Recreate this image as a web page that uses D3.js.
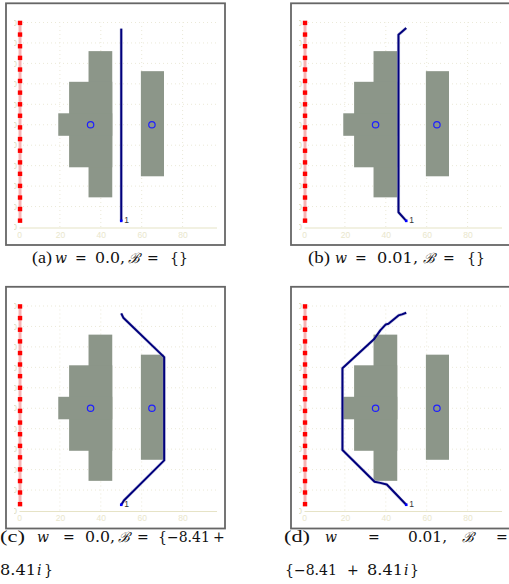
<!DOCTYPE html>
<html>
<head>
<meta charset="utf-8">
<script src="https://cdn.jsdelivr.net/npm/d3@7"></script>
<style>
  body { margin: 0; background: #fff; }
  svg { display: block; }
</style>
</head>
<body>
<div id="chart"></div>
<script>
const width = 509, height = 584;

// axis ticks
const xTicks = [0, 20, 40, 60, 80];
const yTicks = [0, 10, 20, 30, 40, 50, 60, 70, 80, 90, 100];

// red boundary markers (x = 0.5)
const redX = 0.5;
const redY = [3.1, 8.8, 14.4, 20.1, 26.0, 31.6, 37.3, 43.0, 48.7, 54.4, 60.0, 65.7, 71.4, 77.0, 82.7, 88.4, 94.1, 99.8];

// gray obstacles [x0, x1, y0, y1]
const leftBlocks = [[34, 45.6, 14.5, 86], [24.5, 45.6, 29.2, 71], [19.2, 45.6, 44.6, 55.6]];
const rightBlocks = [[59.6, 70.9, 24.8, 76.2]];
const centers = [[35, 50], [65, 50]];

// blue trajectories for each panel
const pathA = [[50, 3], [50, 97]];
const pathB = [[50, 3], [46.2, 7.2], [46.2, 94], [50, 97.3]];
const pathC = [[50, 2.8], [51.3, 4.9], [71, 24.5], [71, 75], [51, 94.3], [50, 96.4]];
const pathD = [[50, 2.8], [40.5, 12.7], [37.3, 13.5], [34.5, 14.1], [18.8, 29.6], [18.8, 69.6],
               [34.2, 83.7], [37.3, 88.1], [40, 91], [41.3, 91.3], [46.2, 95.4], [47.9, 95.9], [50, 96.7]];

// caption tokens: [text, x, width or 0, kind]  kind: "lab" | "m" (math upright) | "mi" (math italic)
const capA = [["(a)", 32, 20, "lab"], ["w", 55, 0, "mi"], ["=", 75, 0, "m"], ["0.0,", 95, 30, "m"],
              ["ℬ", 128, 0, "mi"], ["=", 147, 0, "m"], ["{}", 170, 0, "m"]];
const capB = [["(b)", 308, 22, "lab"], ["w", 335, 0, "mi"], ["=", 355, 0, "m"], ["0.01,", 377, 41, "m"],
              ["ℬ", 423, 0, "mi"], ["=", 443, 0, "m"], ["{}", 467, 0, "m"]];
const capC1 = [["(c)", 0, 25, "lab"], ["w", 37, 0, "mi"], ["=", 63, 0, "m"], ["0.0,", 85, 30, "m"],
               ["ℬ", 118, 0, "mi"], ["=", 137, 0, "m"], ["{−8.41", 158, 0, "m"], ["+", 213, 0, "m"]];
const capC2 = [["8.41", 0, 36, "m"], ["i", 37, 0, "mi"], ["}", 44, 0, "m"]];
const capD1 = [["(d)", 284, 26, "lab"], ["w", 325, 0, "mi"], ["=", 368, 0, "m"], ["0.01,", 408, 39, "m"],
               ["ℬ", 462, 0, "mi"], ["=", 496, 0, "m"]];
const capD2 = [["{−8.41", 285, 0, "m"], ["+", 347, 0, "m"], ["8.41", 367, 36, "m"], ["i", 404, 0, "mi"],
               ["}", 410, 0, "m"]];

const panels = [
  { path: pathA, dx: 0, dy: 0 },
  { path: pathB, dx: 285, dy: 0 },
  { path: pathC, dx: 0, dy: 283.5 },
  { path: pathD, dx: 285, dy: 283.5 }
];

const svg = d3.select("#chart").append("svg")
  .attr("width", width).attr("height", height);

const x = d3.scaleLinear().domain([0, 96.6]).range([19, 19 + 96.6 * 2.045]);
const y = d3.scaleLinear().domain([0, 100]).range([227, 227 - 204.5]);

svg.append("defs").append("clipPath").attr("id", "lclip")
  .append("rect").attr("x", 14).attr("y", 0).attr("width", 220).attr("height", 250);

panels.forEach(p => {
  const g = svg.append("g").attr("transform", `translate(${p.dx},${p.dy})`);
  const plot = g.append("g").attr("clip-path", "url(#lclip)");

  // dotted grid
  plot.selectAll(".vgrid").data(xTicks.slice(1)).enter().append("line")
    .attr("x1", d => x(d)).attr("x2", d => x(d))
    .attr("y1", y(0)).attr("y2", y(100))
    .attr("stroke", "#ebe9d8").attr("stroke-width", 1).attr("stroke-dasharray", "1,3");
  plot.selectAll(".hgrid").data(yTicks.slice(1)).enter().append("line")
    .attr("x1", x(0)).attr("x2", x(96.6))
    .attr("y1", d => y(d)).attr("y2", d => y(d))
    .attr("stroke", "#ebe9d8").attr("stroke-width", 1).attr("stroke-dasharray", "1,3");

  // x axis
  const xAxis = plot.append("g").attr("transform", `translate(0,${y(0) + 0.5})`)
    .call(d3.axisBottom(x).tickValues(xTicks).tickSize(0).tickPadding(4));
  xAxis.select(".domain").attr("stroke", "#e6e3c6").attr("stroke-width", 1.2);
  xAxis.selectAll("text").attr("fill", "#e9e6cc").attr("font-size", 8.5)
    .attr("font-family", "Liberation Sans, Arial, sans-serif");

  // y axis labels (mostly clipped off)
  const yAxis = plot.append("g").attr("transform", `translate(${x(0) - 1},0)`)
    .call(d3.axisLeft(y).tickValues(yTicks).tickSize(0).tickPadding(1));
  yAxis.select(".domain").remove();
  yAxis.selectAll("text").attr("fill", "#dedbbc").attr("font-size", 8.5)
    .attr("font-family", "Liberation Sans, Arial, sans-serif");

  // gray obstacles
  plot.selectAll(".block").data(leftBlocks.concat(rightBlocks)).enter().append("rect")
    .attr("x", d => x(d[0])).attr("width", d => x(d[1]) - x(d[0]))
    .attr("y", d => y(d[3])).attr("height", d => y(d[2]) - y(d[3]))
    .attr("fill", "#8c9689");

  // red boundary
  plot.append("line")
    .attr("x1", x(redX)).attr("x2", x(redX))
    .attr("y1", y(d3.min(redY))).attr("y2", y(d3.max(redY)))
    .attr("stroke", "#f7b4b4").attr("stroke-width", 3);
  plot.selectAll(".red").data(redY).enter().append("rect")
    .attr("x", x(redX) - 2.2).attr("y", d => y(d) - 2.2)
    .attr("width", 4.4).attr("height", 4.4)
    .attr("fill", "#ff0000");

  // circles at obstacle centers
  plot.selectAll(".ctr").data(centers).enter().append("circle")
    .attr("cx", d => x(d[0])).attr("cy", d => y(d[1])).attr("r", 3.2)
    .attr("fill", "none").attr("stroke", "#1f1fff").attr("stroke-width", 1.2);

  // trajectory
  const line = d3.line().x(d => x(d[0])).y(d => y(d[1]));
  plot.append("path").datum(p.path).attr("d", line)
    .attr("fill", "none").attr("stroke", "#9090c8").attr("stroke-width", 3.2)
    .attr("stroke-opacity", 0.45).attr("stroke-linejoin", "round");
  plot.append("path").datum(p.path).attr("d", line)
    .attr("fill", "none").attr("stroke", "#00007c").attr("stroke-width", 2)
    .attr("stroke-linejoin", "round");
  const st = p.path[0];
  plot.append("rect").attr("x", x(st[0]) - 1.3).attr("y", y(st[1]) - 1.3)
    .attr("width", 2.6).attr("height", 2.6).attr("fill", "#0000ff");
  plot.append("text").attr("x", x(st[0]) + 3).attr("y", y(st[1]) + 2)
    .attr("font-size", 8.5).attr("fill", "#333")
    .attr("font-family", "Liberation Sans, Arial, sans-serif").text("1");

  // frame
  g.append("rect").attr("x", 6).attr("y", 3.3).attr("width", 219).attr("height", 241.7)
    .attr("fill", "none").attr("stroke", "#666").attr("stroke-width", 1.8);
});

// captions
function caption(tokens, yp) {
  tokens.forEach(t => {
    const txt = svg.append("text").attr("x", t[1]).attr("y", yp).attr("fill", "#111").text(t[0]);
    if (t[3] === "lab") {
      txt.attr("font-family", "Liberation Serif, Times New Roman, serif").attr("font-size", 17);
    } else {
      txt.attr("font-family", "DejaVu Serif, serif").attr("font-size", 14)
        .attr("font-style", t[3] === "mi" ? "italic" : "normal")
        .attr("font-weight", 300);
    }
    if (t[2]) txt.attr("textLength", t[2]).attr("lengthAdjust", "spacingAndGlyphs");
  });
}
caption(capA, 263);
caption(capB, 263);
caption(capC1, 542);
caption(capC2, 575);
caption(capD1, 542);
caption(capD2, 575);
</script>
</body>
</html>
